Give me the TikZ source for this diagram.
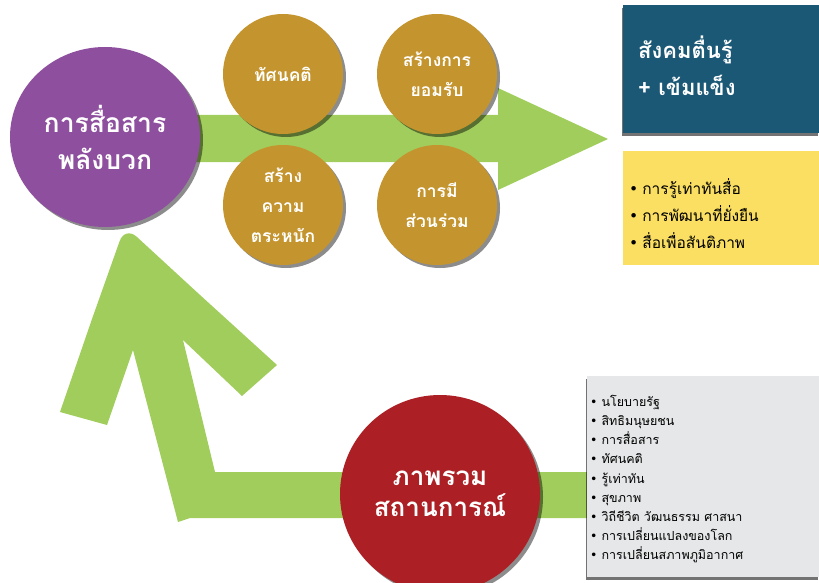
\documentclass[tikz,border=0pt]{standalone}
\usepackage{fontspec}
\setmainfont[Script=Thai]{Loma}
\newfontfamily\symf{DejaVu Sans}
\usetikzlibrary{shadows,shapes.geometric}
\definecolor{cpurple}{RGB}{142,79,158}
\definecolor{cgold}{RGB}{196,149,46}
\definecolor{cgreen}{RGB}{160,205,92}
\definecolor{cblue}{RGB}{27,88,118}
\definecolor{cyellow}{RGB}{250,223,99}
\definecolor{cgray}{RGB}{230,231,232}
\definecolor{cred}{RGB}{172,31,36}
\newcommand{\bul}{{\symf •}\hspace{4pt}}
\begin{document}
\begin{tikzpicture}[x=1pt,y=-1pt,
  cshadow/.style={drop shadow={shadow xshift=3pt,shadow yshift=-3pt,opacity=0.45,fill=black}},
  bshadow/.style={drop shadow={shadow xshift=-1.5pt,shadow yshift=-3pt,opacity=0.55,fill=black}},
  goldcirc/.style={circle,fill=cgold,cshadow,minimum size=120pt,inner sep=0pt,text=white,align=center,font=\bfseries\fontsize{17.5}{30}\selectfont},
  bigcirc/.style={ellipse,inner sep=0pt,text=white,align=center,cshadow,font=\bfseries\fontsize{26.5}{37}\selectfont},
  arrowfill/.style={fill=cgreen,draw=none}
]
\useasboundingbox (0,0) rectangle (819,583);
% upper arrow
\path[arrowfill] (90,115) -- (498,115) -- (498,88) -- (608,139) -- (498,190) -- (498,162) -- (90,162) -- cycle;
% lower arrow
\path[arrowfill] (178,522) -- (133,350) -- (107,425) -- (60,412) -- (92,319)
  [rounded corners=16pt] -- (125,226) -- (200,295) [sharp corners] -- (277,365)
  -- (242,396) -- (183,340) -- (215,472) -- (600,472) -- (600,518) -- (190,518) -- cycle;
% purple circle
\node[bigcirc,fill=cpurple,minimum width=190pt,minimum height=180pt] (comm) at (105,137) {การสื่อสาร\\พลังบวก};
% gold circles
\node[goldcirc] (att) at (283,74) {ทัศนคติ};
\node[goldcirc] (acc) at (437,74) {สร้างการ\\ยอมรับ};
\node[goldcirc] (awa) at (283,205) {สร้าง\\ความ\\ตระหนัก};
\node[goldcirc] (par) at (437,205) {การมี\\ส่วนร่วม};
% red circle
\node[bigcirc,fill=cred,minimum width=200pt,minimum height=198pt,font=\bfseries\fontsize{26}{31}\selectfont] (sit) at (440,494) {ภาพรวม\\สถานการณ์};
% blue box
\node[fill=cblue,bshadow,anchor=north west,minimum width=196pt,minimum height=128pt,inner sep=0pt] (goal) at (623,5) {};
\node[anchor=west,align=left,inner sep=0pt,text=white,font=\bfseries\fontsize{22}{37}\selectfont] (goaltext) at (638,66) {สังคมตื่นรู้\\+ เข้มแข็ง};
% yellow box
\node[fill=cyellow,anchor=north west,minimum width=196pt,minimum height=114pt,inner sep=0pt] (ybox) at (623,151) {};
\node[anchor=west,align=left,inner sep=0pt,font=\fontsize{15.5}{27}\selectfont] (ytext) at (629,214) {\bul การรู้เท่าทันสื่อ\\\bul การพัฒนาที่ยั่งยืน\\\bul สื่อเพื่อสันติภาพ};
% gray box
\node[fill=cgray,bshadow,anchor=north west,minimum width=232pt,minimum height=201pt,inner sep=0pt] (gbox) at (587,376) {};
\node[anchor=west,align=left,inner sep=0pt,font=\fontsize{12.5}{19.2}\selectfont] (gtext) at (590,479) {\bul นโยบายรัฐ\\\bul สิทธิมนุษยชน\\\bul การสื่อสาร\\\bul ทัศนคติ\\\bul รู้เท่าทัน\\\bul สุขภาพ\\\bul วิถีชีวิต วัฒนธรรม ศาสนา\\\bul การเปลี่ยนแปลงของโลก\\\bul การเปลี่ยนสภาพภูมิอากาศ};
\end{tikzpicture}
\end{document}
